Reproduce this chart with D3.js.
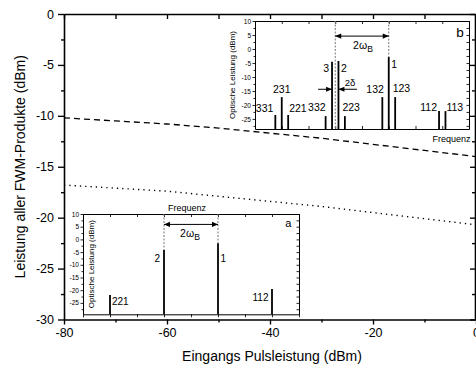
<!DOCTYPE html>
<html><head><meta charset="utf-8">
<script src="https://cdn.jsdelivr.net/npm/d3@7"></script>
<style>
body{margin:0;background:#fff}
svg{display:block}
text{font-family:Arial,"Liberation Sans",sans-serif;fill:#000}
</style>
</head><body>
<svg id="c" width="476" height="365"></svg>
<script>
// ---------- data ----------
const inputPower = [-80,-70,-60,-50,-40,-30,-20,-10,0];
const fwmDashed  = [-10.2,-10.5,-10.8,-11.2,-11.7,-12.2,-12.8,-13.4,-14.0];
const fwmDotted  = [-16.8,-17.1,-17.4,-17.9,-18.4,-18.9,-19.5,-20.1,-20.7];
const mainXTicks = [-80,-60,-40,-20,0];
const mainXMinor = [-70,-50,-30,-10];
const mainYTicks = [0,-5,-10,-15,-20,-25,-30];
const mainYMinor = [-2.5,-7.5,-12.5,-17.5,-22.5,-27.5];
const insetYTicks = [10,5,0,-5,-10,-15,-20,-25];
const insetYMinor = [7.5,2.5,-2.5,-7.5,-12.5,-17.5,-22.5,-27.5];

const specALabels = ["221","2","1","112"];
const specAFreq   = [-3,-1,1,3];
const specAPower  = [-21.9,-4.2,-1.5,-19.5];

const specBLabels = ["331","231","221","332","3","2","223","132","1","123","112","113"];
const specBFreq   = [-2.24,-2,-1.76,-0.36,-0.12,0.12,0.36,1.76,2,2.24,3.88,4.12];
const specBPower  = [-23.6,-17.2,-23.6,-24,-4.6,-4.3,-24,-17.2,-2.9,-17.2,-22.2,-22.2];

// ---------- layout ----------
const svg = d3.select("#c");
const x = d3.scaleLinear([-80,0],[64,476]);
const y = d3.scaleLinear([0,-30],[14,319.5]);
const fmt = d => String(d);

function styleAxis(g, w){
  g.selectAll(".domain").attr("stroke","#000").attr("stroke-width",w);
  g.selectAll(".tick line").attr("stroke","#000").attr("stroke-width",w*0.85);
  g.selectAll(".tick text").attr("fill","#000").style("font-family","Arial, 'Liberation Sans', sans-serif");
}

// main lines
const lineGen = arr => d3.line().x((d,i)=>x(inputPower[i])).y(d=>y(d))(arr);
svg.append("path").attr("d",lineGen(fwmDashed)).attr("fill","none")
  .attr("stroke","#000").attr("stroke-width",1.3).attr("stroke-dasharray","6,4");
svg.append("path").attr("d",lineGen(fwmDotted)).attr("fill","none")
  .attr("stroke","#000").attr("stroke-width",1.4).attr("stroke-dasharray","1.3,4");

// main axes
const yB = y(-30), yT = y(0), xL = x(-80), xR = 475;
let g;
g = svg.append("g").attr("transform",`translate(0,${yB})`)
  .call(d3.axisBottom(x).tickValues(mainXTicks).tickSize(5).tickSizeOuter(0).tickPadding(4).tickFormat(fmt));
g.selectAll("text").attr("font-size",12.5);
styleAxis(g,1.6);
g = svg.append("g").attr("transform",`translate(0,${yB})`)
  .call(d3.axisBottom(x).tickValues(mainXMinor).tickSize(3).tickFormat(""));
g.select(".domain").remove(); styleAxis(g,1.6);
g = svg.append("g").attr("transform",`translate(0,${yT})`)
  .call(d3.axisTop(x).tickValues(mainXTicks.concat(mainXMinor)).tickSize(-5).tickSizeOuter(0).tickFormat(""));
styleAxis(g,1.6);
g = svg.append("g").attr("transform",`translate(${xL},0)`)
  .call(d3.axisLeft(y).tickValues(mainYTicks).tickSize(6).tickSizeOuter(0).tickPadding(4).tickFormat(fmt));
g.selectAll("text").attr("font-size",12.5);
styleAxis(g,1.6);
g = svg.append("g").attr("transform",`translate(${xL},0)`)
  .call(d3.axisLeft(y).tickValues(mainYMinor).tickSize(3).tickFormat(""));
g.select(".domain").remove(); styleAxis(g,1.6);
g = svg.append("g").attr("transform",`translate(${xR},0)`)
  .call(d3.axisRight(y).tickValues(mainYTicks).tickSize(-5).tickSizeOuter(0).tickFormat(""));
styleAxis(g,1.6);
g = svg.append("g").attr("transform",`translate(${xR},0)`)
  .call(d3.axisRight(y).tickValues(mainYMinor).tickSize(-3).tickFormat(""));
g.select(".domain").remove(); styleAxis(g,1.6);

svg.append("text").attr("x",(xL+476)/2+2).attr("y",361).attr("text-anchor","middle")
  .attr("font-size",14).text("Eingangs Pulsleistung (dBm)");
svg.append("text").attr("transform",`translate(25,${(yT+yB)/2}) rotate(-90)`).attr("text-anchor","middle")
  .attr("font-size",14).text("Leistung aller FWM-Produkte (dBm)");

// ---------- helpers ----------
function arrowHead(g, xt, yt, dir){ // dir +1 pointing right, -1 pointing left
  const L=6, H=2.6;
  g.append("path").attr("d",`M${xt},${yt} L${xt-dir*L},${yt-H} L${xt-dir*L},${yt+H} Z`).attr("fill","#000");
}
function arrowLine(g, x1, x2, yy, headLeft, headRight){
  g.append("line").attr("x1",x1).attr("x2",x2).attr("y1",yy).attr("y2",yy)
    .attr("stroke","#000").attr("stroke-width",1);
  if(headLeft) arrowHead(g,x1,yy,-1);
  if(headRight) arrowHead(g,x2,yy,1);
}
function omegaLabel(g, xc, yb, fs){
  const t = g.append("text").attr("x",xc).attr("y",yb).attr("text-anchor","middle").attr("font-size",fs);
  t.append("tspan").text("2ω");
  t.append("tspan").attr("dy",3).attr("font-size",fs*0.82).text("B");
}
function insetAxes(g, xs, ys, freqTicks, opts){
  const [x0,x1] = xs.range(), [yTop,yBot] = ys.range();
  g.append("rect").attr("x",x0).attr("y",yTop).attr("width",x1-x0).attr("height",yBot-yTop).attr("fill","#fff");
  let a;
  a = g.append("g").attr("transform",`translate(${x0},0)`)
    .call(d3.axisLeft(ys).tickValues(insetYTicks).tickSize(2.5).tickSizeOuter(0).tickPadding(1.5).tickFormat(fmt));
  a.selectAll("text").attr("font-size",6.5);
  styleAxis(a,1);
  a = g.append("g").attr("transform",`translate(${x0},0)`)
    .call(d3.axisLeft(ys).tickValues(insetYMinor).tickSize(1.5).tickFormat(""));
  a.select(".domain").remove(); styleAxis(a,1);
  a = g.append("g").attr("transform",`translate(${x1},0)`)
    .call(d3.axisRight(ys).tickValues(insetYTicks.concat(insetYMinor)).tickSize(-2.5).tickSizeOuter(0).tickFormat(""));
  styleAxis(a,1);
  a = g.append("g").attr("transform",`translate(0,${yTop})`)
    .call(d3.axisTop(xs).tickValues(freqTicks).tickSize(-3).tickSizeOuter(0).tickFormat(""));
  styleAxis(a,1);
  a = g.append("g").attr("transform",`translate(0,${yBot})`)
    .call(d3.axisBottom(xs).tickValues(freqTicks).tickSize(opts.bottomOut ? 3 : -3).tickSizeOuter(0).tickFormat(""));
  styleAxis(a,1);
}
function spectrum(g, xs, ys, freq, power, widths){
  const yBot = ys.range()[1];
  g.selectAll("line.bar").data(freq).enter().append("line").attr("class","bar")
    .attr("x1",d=>xs(d)).attr("x2",d=>xs(d))
    .attr("y1",yBot).attr("y2",(d,i)=>ys(power[i]))
    .attr("stroke","#000").attr("stroke-width",(d,i)=>widths(i));
}
function guide(g, xv, y1, y2){
  g.append("line").attr("x1",xv).attr("x2",xv).attr("y1",y1).attr("y2",y2)
    .attr("stroke","#777").attr("stroke-width",1).attr("stroke-dasharray","2,1.5");
}

// ---------- inset b ----------
const gb = svg.append("g");
const xb = d3.scaleLinear([-3,5],[255,469]);
const yb = d3.scaleLinear([10,-28.6],[21,129]);
insetAxes(gb, xb, yb, d3.range(-3,6), {bottomOut:false});
guide(gb, xb(0), yb(10), yb(-28.6));
guide(gb, xb(2), yb(10), yb(specBPower[8]));
spectrum(gb, xb, yb, specBFreq, specBPower, i=>1.8);
const labB = { // anchor, dx, dy relative to the line top
  "331":["end",-2,-3], "231":["middle",0,-4], "221":["start",1,-3], "332":["end",0,-5],
  "3":["end",-3,10], "2":["start",2.5,11], "223":["start",-2.5,-5], "132":["end",1.5,-4],
  "1":["start",2.5,11], "123":["start",-2.5,-5], "112":["end",-2,0], "113":["start",1,0]
};
specBLabels.forEach((lab,i)=>{
  const [anc,dx,dy] = labB[lab];
  gb.append("text").attr("x",xb(specBFreq[i])+dx).attr("y",yb(specBPower[i])+dy)
    .attr("text-anchor",anc).attr("font-size",10.5).text(lab);
});
arrowLine(gb, xb(0), xb(2), yb(4.6), true, true);
omegaLabel(gb, xb(1)+1, yb(4.6)+13, 10.5);
arrowLine(gb, xb(-0.64), xb(-0.12), yb(-14.4), false, true);
arrowLine(gb, xb(0.12), xb(0.81), yb(-14.4), true, false);
gb.append("text").attr("x",xb(0.55)).attr("y",yb(-14.4)-3).attr("text-anchor","middle").attr("font-size",9.5).text("2δ");
gb.append("text").attr("x",xb(4.8)).attr("y",yb(10)+16).attr("text-anchor","end").attr("font-size",13.5).text("b");
gb.append("text").attr("x",xb(4.35)).attr("y",yb(-28.6)+12.5).attr("text-anchor","middle").attr("font-size",9).text("Frequenz");
gb.append("text").attr("transform",`translate(${xb(-3)-20},${(yb(10)+yb(-28.6))/2}) rotate(-90)`)
  .attr("text-anchor","middle").attr("font-size",8).text("Optische Leistung (dBm)");

// ---------- inset a ----------
const ga = svg.append("g");
const xa = d3.scaleLinear([-4,4],[83,299]);
const ya = d3.scaleLinear([10,-29.5],[214,314.3]);
insetAxes(ga, xa, ya, d3.range(-4,5), {bottomOut:true});
guide(ga, xa(-1), ya(10), ya(specAPower[1]));
guide(ga, xa(1), ya(10), ya(specAPower[2]));
spectrum(ga, xa, ya, specAFreq, specAPower, i=>1.8);
const labA = {"221":["start",2,10], "2":["end",-4,11.7], "1":["start",2.5,19], "112":["end",-3.5,11.7]};
specALabels.forEach((lab,i)=>{
  const [anc,dx,dy] = labA[lab];
  ga.append("text").attr("x",xa(specAFreq[i])+dx).attr("y",ya(specAPower[i])+dy)
    .attr("text-anchor",anc).attr("font-size",10).text(lab);
});
arrowLine(ga, xa(-1), xa(1), ya(5.9), true, true);
omegaLabel(ga, xa(0)-1, ya(5.9)+13, 10.5);
ga.append("text").attr("x",xa(3.6)).attr("y",ya(10)+13).attr("text-anchor","middle").attr("font-size",11).text("a");
ga.append("text").attr("x",xa(-0.15)).attr("y",ya(10)-3).attr("text-anchor","middle").attr("font-size",9).text("Frequenz");
ga.append("text").attr("transform",`translate(${xa(-4)+11},${(ya(10)+ya(-29.5))/2}) rotate(-90)`)
  .attr("text-anchor","middle").attr("font-size",8).text("Optische Leistung (dBm)");
</script>
</body></html>
